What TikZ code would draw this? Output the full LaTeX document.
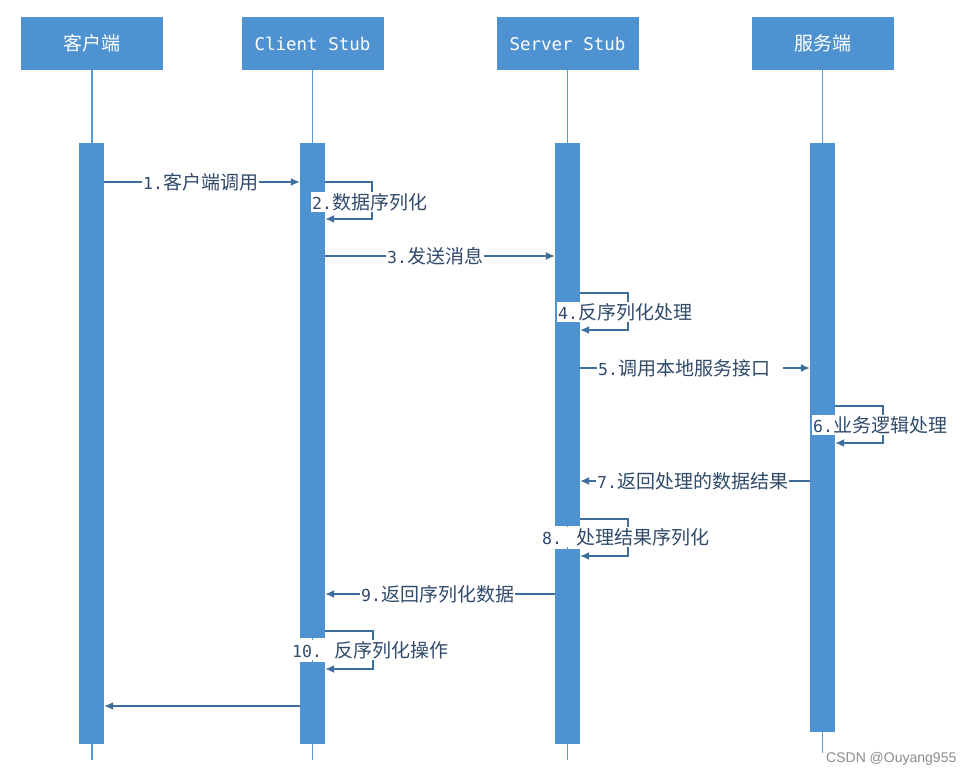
\documentclass[tikz,border=0pt]{standalone}
\usepackage{fontspec}
\newfontfamily\cjk{Noto Sans CJK SC}
\newfontfamily\mono{DejaVu Sans Mono}
\newfontfamily\wmfont{Liberation Sans}
\usetikzlibrary{arrows.meta}
\definecolor{barblue}{RGB}{78,146,210}
\definecolor{linecol}{RGB}{62,110,155}
\definecolor{txtcol}{RGB}{48,74,106}
\definecolor{lifecol}{RGB}{88,152,212}
\newcommand\numtxt[1]{{\mono\fontsize{16.5}{18}\selectfont #1}}
\newcommand\headmono{\mono\fontsize{17.5}{20}\selectfont}
\newcommand\headcjk{\cjk\fontsize{19}{20}\selectfont}
\begin{document}
\begin{tikzpicture}[x=1pt,y=-1pt,
  head/.style={fill=barblue, minimum width=142pt, minimum height=53pt, inner sep=0pt, text=white},
  actbar/.style={fill=barblue, minimum width=25pt, inner sep=0pt, anchor=north},
  life/.style={draw=lifecol, line width=1.4pt},
  msg/.style={draw=linecol, line width=1.4pt, -{Latex[length=9pt,width=8pt]}},
  lbl/.style={fill=white, text=txtcol, inner xsep=1pt, inner ysep=1.5pt, anchor=west, font=\cjk\fontsize{19}{20}\selectfont},
]
\useasboundingbox[fill=white] (0,0) rectangle (972,776);

% headers
\node[head] (h1) at (92,43.5) {\headcjk 客户端};
\node[head] (h2) at (312.5,43.5) {\headmono Client Stub};
\node[head] (h3) at (567.5,43.5) {\headmono Server Stub};
\node[head] (h4) at (822.5,43.5) {\headcjk 服务端};

% lifeline ends
\coordinate (e1) at (92,760);
\coordinate (e2) at (312.5,760);
\coordinate (e3) at (567.5,760);
\coordinate (e4) at (822.5,753);
\draw[life] (h1.south) -- (e1);
\draw[life] (h2.south) -- (e2);
\draw[life] (h3.south) -- (e3);
\draw[life] (h4.south) -- (e4);

% activation bars
\node[actbar, minimum height=601pt] (a1) at (91.5,143) {};
\node[actbar, minimum height=495pt] (a2) at (312.5,143) {};
\node[actbar, minimum height=82pt] (a2b) at (312.5,662) {};
\node[actbar, minimum height=383pt] (a3) at (567.5,143) {};
\node[actbar, minimum height=195pt] (a3b) at (567.5,549) {};
\node[actbar, minimum height=589pt] (a4) at (822.5,143) {};

% y levels
\path (0,182) coordinate (y1) (0,219) coordinate (y2) (0,256) coordinate (y3)
      (0,293) coordinate (y4a) (0,330) coordinate (y4b) (0,368) coordinate (y5)
      (0,406) coordinate (y6a) (0,443) coordinate (y6b) (0,481) coordinate (y7)
      (0,519) coordinate (y8a) (0,556) coordinate (y8b) (0,594) coordinate (y9)
      (0,631) coordinate (y10a) (0,669) coordinate (y10b) (0,706) coordinate (y11);
\coordinate (r2) at (372,0);
\coordinate (r4) at (628,0);
\coordinate (r6) at (883,0);
\coordinate (r10) at (373,0);

% messages
\draw[msg] (a1.east |- y1) -- (a2.west |- y1);
\draw[msg] (a2.east |- y1) -- (r2 |- y1) -- (r2 |- y2) -- (a2.east |- y2);
\draw[msg] (a2.east |- y3) -- (a3.west |- y3);
\draw[msg] (a3.east |- y4a) -- (r4 |- y4a) -- (r4 |- y4b) -- (a3.east |- y4b);
\draw[msg] (a3.east |- y5) -- (a4.west |- y5);
\draw[msg] (a4.east |- y6a) -- (r6 |- y6a) -- (r6 |- y6b) -- (a4.east |- y6b);
\draw[msg] (a4.west |- y7) -- (a3.east |- y7);
\draw[msg] (a3.east |- y8a) -- (r4 |- y8a) -- (r4 |- y8b) -- (a3b.east |- y8b);
\draw[msg] (a3b.west |- y9) -- (a2.east |- y9);
\draw[msg] (a2.east |- y10a) -- (r10 |- y10a) -- (r10 |- y10b) -- (a2b.east |- y10b);
\draw[msg] (a2b.west |- y11) -- (a1.east |- y11);

% labels
\node[lbl] (l1) at (142,182) {\numtxt{1.}客户端调用};
\node[lbl] (l2) at (311,202) {\numtxt{2.}数据序列化};
\node[lbl] (l3) at (386,256) {\numtxt{3.}发送消息};
\node[lbl] (l4) at (557,312) {\numtxt{4.}反序列化处理};
\node[lbl] (l5) at (597,368) {\numtxt{5.}调用本地服务接口\kern12pt};
\node[lbl] (l6) at (812,425) {\numtxt{6.}业务逻辑处理};
\node[lbl] (l7) at (596,481) {\numtxt{7.}返回处理的数据结果};
\node[lbl] (l8) at (541,537) {\numtxt{8.}\kern14pt 处理结果序列化};
\node[lbl] (l9) at (360,594) {\numtxt{9.}返回序列化数据};
\node[lbl] (l10) at (291,650) {\numtxt{10.}\kern12pt 反序列化操作};

% watermark
\node[anchor=west, inner sep=0pt, text=black!45, font=\wmfont\fontsize{14}{16}\selectfont] (wm) at (826,759) {CSDN @Ouyang955};
\end{tikzpicture}
\end{document}
